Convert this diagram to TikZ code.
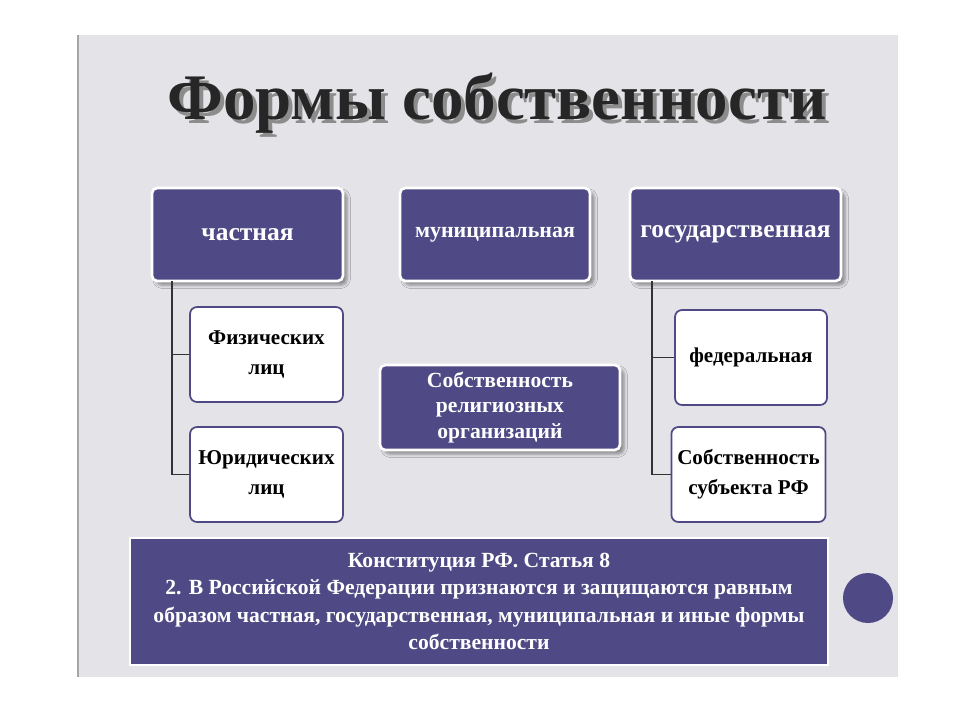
\documentclass[tikz,border=0pt]{standalone}
\usepackage{fontspec}
\setmainfont{Liberation Serif}
\usetikzlibrary{calc,shadows.blur}
\definecolor{boxpurple}{HTML}{4F4A85}
\definecolor{slidegray}{HTML}{E4E3E8}
\tikzset{
  topbox/.style={draw=white,line width=1.5pt,fill=boxpurple,rounded corners=3pt,
    text=white,font=\bfseries\fontsize{14.5}{17}\selectfont,align=center,blur shadow},
  subbox/.style={draw=boxpurple,line width=1pt,fill=white,rounded corners=4pt,
    text=black,font=\bfseries\fontsize{12}{17}\selectfont,align=center},
  titletext/.style={font=\bfseries\fontsize{37}{40}\selectfont},
  link/.style={draw=black!80,line width=1pt}
}
\begin{document}
\begin{tikzpicture}[x=0.02cm,y=-0.02cm]
        % page and slide
        \useasboundingbox (0,0) rectangle (960,720);
        \fill[white] (0,0) rectangle (960,720);
        \fill[slidegray] (78,35) rectangle (898,677);
        \draw[gray!70,line width=1.5pt] (78,35) -- (78,677);

        % title with its shadow
        \node (titleshadow) at (501,107) [titletext,text=black!45] {Формы собственности};
        \node (title) at (497,103) [titletext,text=black!85] {Формы собственности};

        % top row
        \node (chast) [topbox,minimum width=191*0.02cm,minimum height=93*0.02cm] at (247.5,234.5) {частная};
        \node (munic) [topbox,font=\bfseries\fontsize{12.5}{15}\selectfont,
            minimum width=190*0.02cm,minimum height=93*0.02cm] at (495,234.5) {муниципальная};
        \node (gos)   [topbox,minimum width=211*0.02cm,minimum height=93*0.02cm] at (735.5,234.5) {государственная};

        % sub boxes
        \node (fiz) [subbox,minimum width=153*0.02cm,minimum height=95*0.02cm] at (266.5,354.5) {Физических\\лиц};
        \node (yur) [subbox,minimum width=153*0.02cm,minimum height=95*0.02cm] at (266.5,474.5) {Юридических\\лиц};
        \node (fed) [subbox,minimum width=152*0.02cm,minimum height=95*0.02cm] at (751,357.5) {федеральная};
        \node (subj) [subbox,minimum width=153*0.02cm,minimum height=95*0.02cm] at (748.5,474.5) {Собственность\\субъекта РФ};

        % religious organisations
        \node (relig) [topbox,font=\bfseries\fontsize{12.3}{14.5}\selectfont,
            minimum width=240*0.02cm,minimum height=85*0.02cm] at (500,407.5)
            {Собственность\\религиозных\\организаций};

        % connectors
        \coordinate (lt) at (172,281);
        \coordinate (rt) at (652,281);
        \draw[link] (lt) -- (lt |- yur.west) -- (yur.west);
        \draw[link] (lt |- fiz.west) -- (fiz.west);
        \draw[link] (rt) -- (rt |- subj.west) -- (subj.west);
        \draw[link] (rt |- fed.west) -- (fed.west);

        % constitution
        \node (const) [draw=white,line width=1pt,fill=boxpurple,text=white,align=center,
            font=\bfseries\fontsize{12.3}{15.5}\selectfont,
            minimum width=698*0.02cm,minimum height=127*0.02cm] at (479,601.5)
            {Конституция РФ. Статья 8\\
             2. В Российской Федерации признаются и защищаются равным\\
             образом частная, государственная, муниципальная и иные формы\\
             собственности};

        % decoration
        \node (dot) [circle,fill=boxpurple,minimum size=50*0.02cm] at (868,598) {};
\end{tikzpicture}
\end{document}
